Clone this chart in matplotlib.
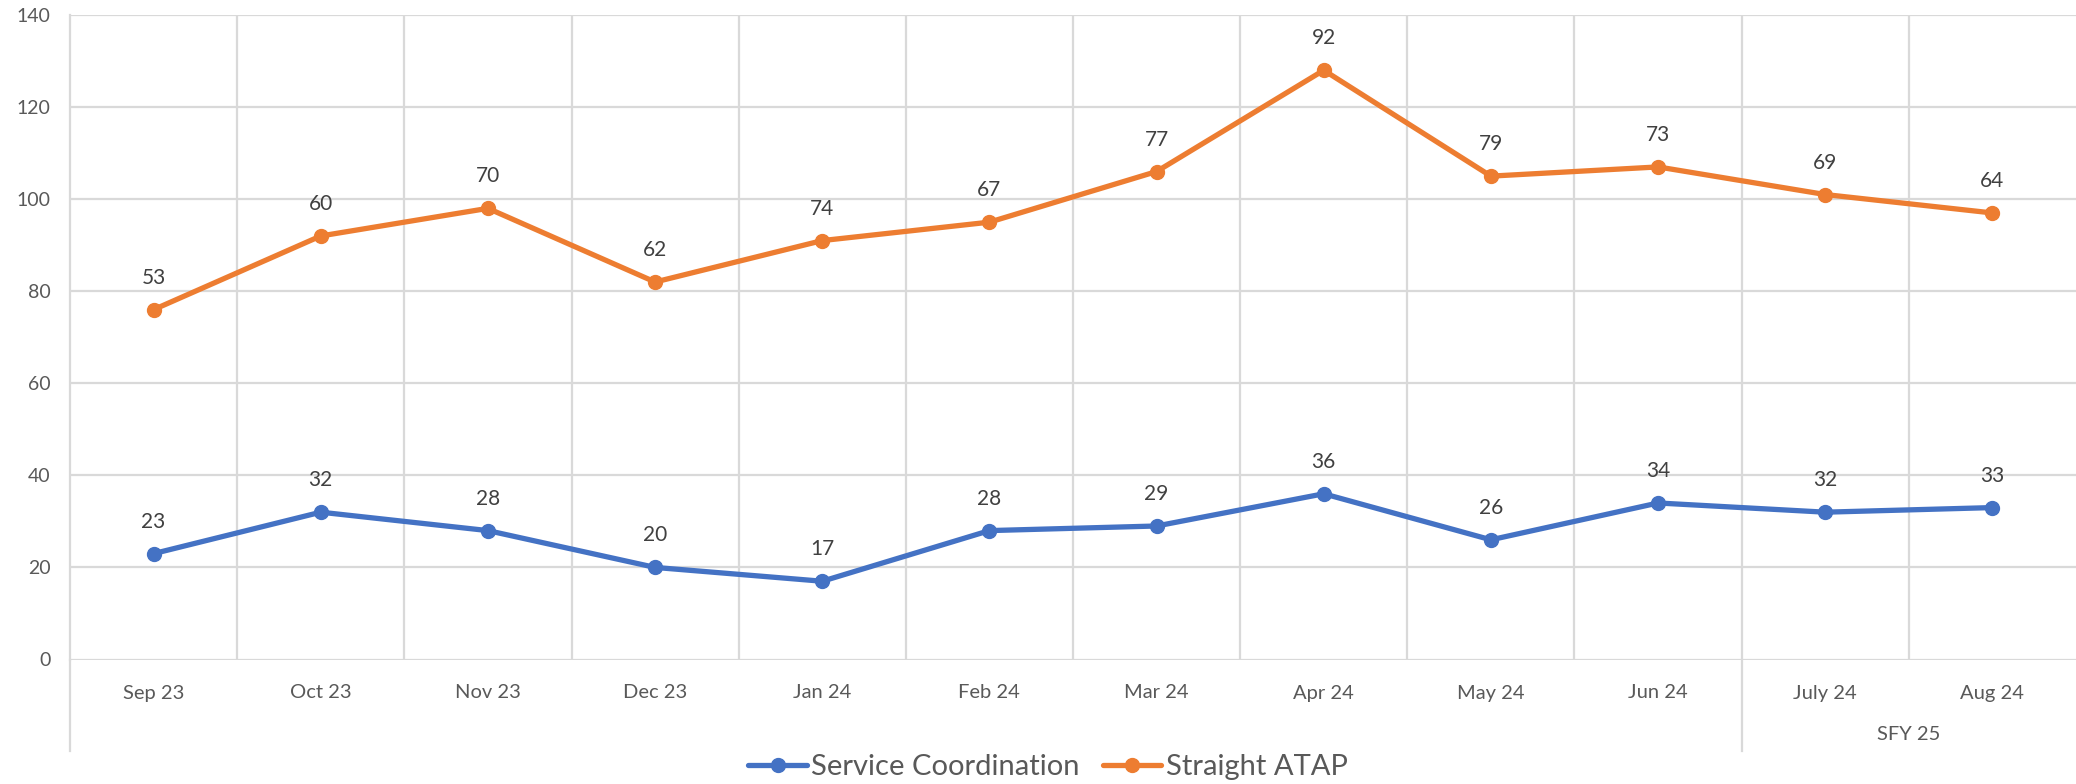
import matplotlib
matplotlib.use("Agg")
import matplotlib.pyplot as plt
import numpy as np

months = ["Sep 23", "Oct 23", "Nov 23", "Dec 23", "Jan 24", "Feb 24",
          "Mar 24", "Apr 24", "May 24", "Jun 24", "July 24", "Aug 24"]
service_coord = [23, 32, 28, 20, 17, 28, 29, 36, 26, 34, 32, 33]
straight_atap = [53, 60, 70, 62, 74, 67, 77, 92, 79, 73, 69, 64]
group_label = "SFY 25"
group_start = 10  # index of first month in SFY 25 group

plt.rcParams['font.family'] = ['Lato', 'DejaVu Sans']

BLUE = "#4472C4"
ORANGE = "#ED7D31"
GRID = "#D9D9D9"
TXT = "#595959"
LBL = "#404040"

W, H = 2076, 784
fig = plt.figure(figsize=(W / 100, H / 100), dpi=100)
ax = fig.add_axes([70 / W, 1 - 659.5 / H, (W - 70) / W, (659.5 - 15) / H])

x = np.arange(len(months))
sc = np.array(service_coord)
stacked = sc + np.array(straight_atap)

ax.set_xlim(-0.5, len(months) - 0.5)
ax.set_ylim(0, 140)
ax.set_yticks(np.arange(0, 141, 20))
ax.yaxis.grid(True, color=GRID, lw=1.6)
ax.set_axisbelow(True)
for b in np.arange(0.5, len(months) - 0.5, 1):
    ax.axvline(b, color=GRID, lw=1.6, zorder=0)

for s in ax.spines.values():
    s.set_visible(False)
ax.spines['left'].set_visible(True)
ax.spines['left'].set_color(GRID)
ax.spines['left'].set_linewidth(1.6)
ax.axhline(0, color=GRID, lw=2, zorder=0.5)

ax.set_xticks(x)
ax.set_xticklabels(months)
ax.tick_params(axis='x', length=0, pad=18, labelsize=14.5, labelcolor=TXT)
ax.tick_params(axis='y', length=0, pad=14, labelsize=14, labelcolor=TXT)

# multi-level category separators below axis
ext = (751 - 659.5) / (659.5 - 15)
trans = ax.get_xaxis_transform()
for xb in (-0.5, group_start - 0.5):
    ax.plot([xb, xb], [0, -ext], color=GRID, lw=1.6, transform=trans, clip_on=False)
ax.text((group_start + len(months) - 1) / 2, -(735 - 659.5) / (659.5 - 15), group_label,
        transform=trans, ha='center', va='center', fontsize=14.5, color=TXT)

l1, = ax.plot(x, sc, color=BLUE, lw=3.8, marker='o', ms=10, label="Service Coordination",
              solid_capstyle='round', zorder=3)
l2, = ax.plot(x, stacked, color=ORANGE, lw=3.8, marker='o', ms=10, label="Straight ATAP",
              solid_capstyle='round', zorder=3)

for xi, yi, v in zip(x, sc, service_coord):
    ax.annotate(str(v), (xi, yi), xytext=(0, 23), textcoords='offset points',
                ha='center', va='center', fontsize=15, color=LBL)
for xi, yi, v in zip(x, stacked, straight_atap):
    ax.annotate(str(v), (xi, yi), xytext=(0, 23), textcoords='offset points',
                ha='center', va='center', fontsize=15, color=LBL)

fig.legend(handles=[l1, l2], loc='center', bbox_to_anchor=(1048 / W, 1 - 767 / H),
           ncol=2, frameon=False, fontsize=21, labelcolor=TXT, handlelength=2.0,
           handletextpad=0.15, columnspacing=0.8, borderaxespad=0)

fig.savefig("out.png", dpi=100)
